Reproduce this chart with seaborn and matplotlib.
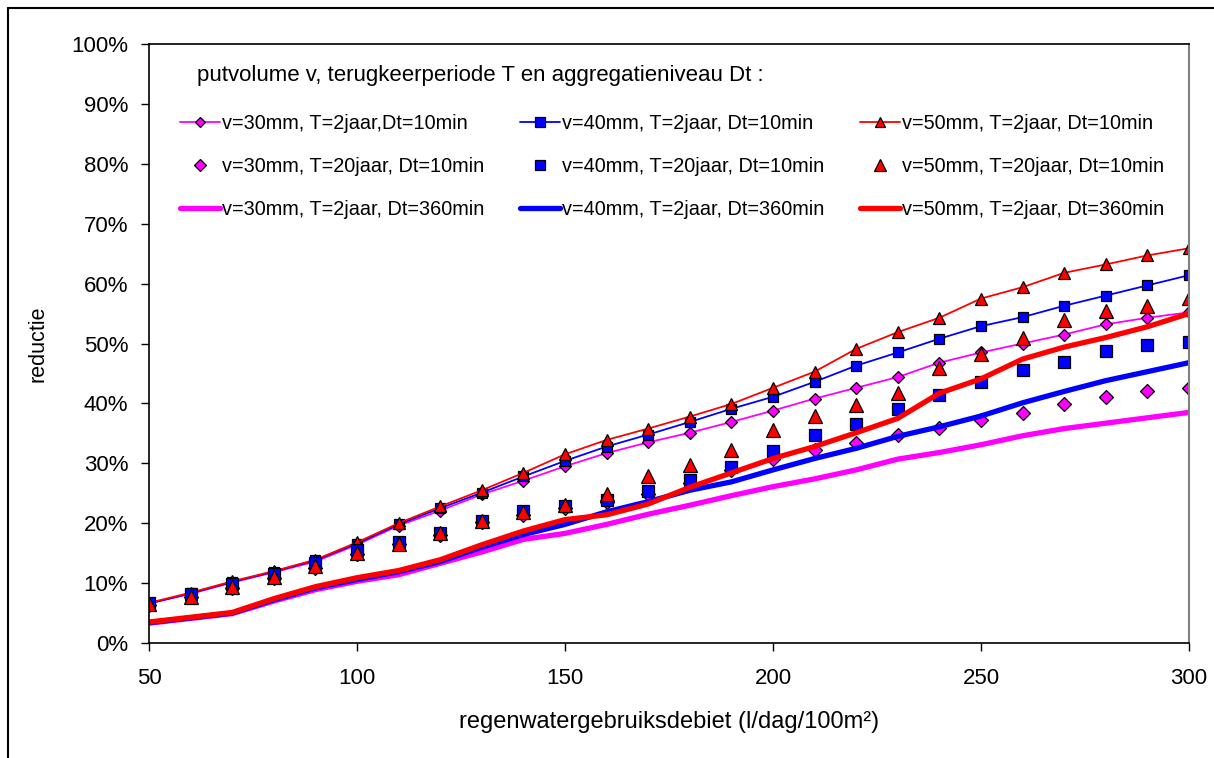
import matplotlib
matplotlib.use("Agg")
import matplotlib.pyplot as plt
import seaborn as sns
from matplotlib.ticker import PercentFormatter, MultipleLocator
from matplotlib.lines import Line2D

# regenwatergebruiksdebiet (l/dag/100m2)
debiet = [50, 60, 70, 80, 90, 100, 110, 120, 130, 140, 150, 160, 170,
          180, 190, 200, 210, 220, 230, 240, 250, 260, 270, 280, 290, 300]

# reductie (%), T=2jaar, Dt=10min
v30_t2_dt10 = [6.6, 8.2, 10.1, 11.8, 13.6, 16.4, 19.6, 22.1, 24.8, 27.1, 29.5, 31.7, 33.5,
               35.1, 36.9, 38.8, 40.8, 42.6, 44.4, 46.8, 48.5, 50.0, 51.5, 53.2, 54.3, 55.2]
v40_t2_dt10 = [6.6, 8.3, 10.2, 11.9, 13.8, 16.6, 19.8, 22.5, 25.1, 27.8, 30.4, 32.8, 34.8,
               36.9, 39.1, 41.1, 43.6, 46.3, 48.5, 50.8, 52.9, 54.4, 56.3, 58.0, 59.7, 61.4]
v50_t2_dt10 = [6.7, 8.4, 10.3, 12.0, 13.9, 16.8, 20.0, 22.8, 25.5, 28.4, 31.5, 33.9, 35.8,
               37.8, 39.9, 42.6, 45.3, 49.1, 51.9, 54.3, 57.5, 59.4, 61.8, 63.2, 64.7, 65.9]

# T=20jaar, Dt=10min
v30_t20_dt10 = [6.4, 7.6, 9.2, 10.9, 12.6, 14.9, 16.5, 18.1, 20.2, 21.4, 22.6, 23.5, 24.8,
                26.7, 28.8, 30.8, 32.3, 33.4, 34.8, 35.9, 37.2, 38.4, 39.9, 41.0, 42.0, 42.5]
v40_t20_dt10 = [6.6, 8.1, 9.8, 11.5, 13.3, 15.6, 16.8, 18.3, 20.4, 22.0, 22.9, 23.9, 25.3,
                27.2, 29.3, 32.0, 34.7, 36.6, 39.1, 41.4, 43.5, 45.5, 46.9, 48.7, 49.7, 50.3]
v50_t20_dt10 = [6.5, 7.7, 9.3, 11.0, 12.8, 15.0, 16.6, 18.4, 20.4, 21.9, 23.0, 24.9, 27.9,
                29.7, 32.3, 35.6, 37.9, 39.7, 41.7, 45.9, 48.2, 50.9, 54.0, 55.4, 56.3, 57.6]

# T=2jaar, Dt=360min
v30_t2_dt360 = [3.3, 4.1, 4.9, 7.0, 8.9, 10.3, 11.4, 13.3, 15.2, 17.3, 18.3, 19.8, 21.5,
                23.0, 24.6, 26.1, 27.4, 28.9, 30.7, 31.8, 33.1, 34.6, 35.8, 36.7, 37.6, 38.5]
v40_t2_dt360 = [3.4, 4.2, 5.0, 7.2, 9.2, 10.6, 11.9, 13.6, 16.0, 18.1, 19.8, 21.9, 23.6,
                25.5, 26.9, 28.9, 30.8, 32.5, 34.5, 36.1, 37.9, 40.1, 42.0, 43.8, 45.3, 46.8]
v50_t2_dt360 = [3.5, 4.3, 5.1, 7.4, 9.4, 10.9, 12.1, 13.9, 16.4, 18.7, 20.6, 21.4, 23.2,
                26.0, 28.4, 30.8, 32.8, 35.1, 37.5, 41.7, 44.1, 47.4, 49.4, 51.0, 52.8, 55.0]

labels_dt10 = ["v=30mm, T=2jaar,Dt=10min", "v=40mm, T=2jaar, Dt=10min", "v=50mm, T=2jaar, Dt=10min"]
labels_t20 = ["v=30mm, T=20jaar, Dt=10min", "v=40mm, T=20jaar, Dt=10min", "v=50mm, T=20jaar, Dt=10min"]
labels_dt360 = ["v=30mm, T=2jaar, Dt=360min", "v=40mm, T=2jaar, Dt=360min", "v=50mm, T=2jaar, Dt=360min"]

kleuren = ["#FF00FF", "#0000FF", "#FF0000"]
markers = ["D", "s", "^"]
msizes = [6, 7, 8]

sns.set_style("white")
plt.rcParams["font.family"] = ["Liberation Sans", "DejaVu Sans"]
plt.rcParams["text.color"] = "black"
plt.rcParams["axes.labelcolor"] = "black"
plt.rcParams["xtick.color"] = "black"
plt.rcParams["ytick.color"] = "black"

fig = plt.figure(figsize=(12.14, 7.58), dpi=100)
ax = fig.add_axes([149 / 1214, 115 / 758, 1040 / 1214, 599 / 758])

handles = {}
# dunne lijnen met markers
for y, lab, c, m, ms in zip([v30_t2_dt10, v40_t2_dt10, v50_t2_dt10], labels_dt10, kleuren, markers, msizes):
    sns.lineplot(x=debiet, y=y, color=c, lw=1.3, marker=m, markersize=ms,
                 markeredgecolor="black", markeredgewidth=0.9, ax=ax, legend=False)
    handles[lab] = Line2D([], [], color=c, lw=1.3, marker=m, markersize=ms - 0.5,
                          markeredgecolor="black", markeredgewidth=0.9)
# alleen markers
for y, lab, c, m, ms in zip([v30_t20_dt10, v40_t20_dt10, v50_t20_dt10], labels_t20, kleuren, markers, msizes):
    sns.lineplot(x=debiet, y=y, color=c, lw=0, marker=m, markersize=ms + 1.5,
                 markeredgecolor="black", markeredgewidth=0.9, ax=ax, legend=False)
    handles[lab] = Line2D([], [], color=c, lw=0, marker=m, markersize=ms,
                          markeredgecolor="black", markeredgewidth=0.9)
# dikke lijnen
for y, lab, c in zip([v30_t2_dt360, v40_t2_dt360, v50_t2_dt360], labels_dt360, kleuren):
    sns.lineplot(x=debiet, y=y, color=c, lw=3.8, ax=ax, legend=False)
    handles[lab] = Line2D([], [], color=c, lw=3.8)

ax.set_xlim(50, 300)
ax.set_ylim(0, 100)
ax.xaxis.set_major_locator(MultipleLocator(50))
ax.yaxis.set_major_locator(MultipleLocator(10))
ax.yaxis.set_major_formatter(PercentFormatter(xmax=100, decimals=0))
ax.tick_params(axis="both", direction="out", length=6, width=1, color="black",
               labelsize=16, left=True, bottom=True)
ax.tick_params(axis="y", pad=9)
ax.tick_params(axis="x", pad=12)
for s in ["left", "bottom", "top"]:
    ax.spines[s].set_color("black")
    ax.spines[s].set_linewidth(1.2)
ax.spines["right"].set_color("#808080")
ax.spines["right"].set_linewidth(1.5)

ax.set_ylabel("reductie", fontsize=15.5, labelpad=16)
ax.set_xlabel("regenwatergebruiksdebiet (l/dag/100m²)", fontsize=17, labelpad=16)

ax.text(0.046, 0.948, "putvolume v, terugkeerperiode T en aggregatieniveau Dt :",
        transform=ax.transAxes, fontsize=16, va="center", ha="left")

volgorde = []
for i in range(3):
    volgorde += [labels_dt10[i], labels_t20[i], labels_dt360[i]]
ax.legend([handles[l] for l in volgorde], volgorde, ncol=3, loc="upper left",
          bbox_to_anchor=(0.03, 0.883), frameon=False, fontsize=14.3,
          handlelength=2.0, handletextpad=0.1, columnspacing=1.8,
          labelspacing=1.2, borderaxespad=0, borderpad=0)

# buitenkader
fig.add_artist(Line2D([8 / 1214, 8 / 1214], [0, 1 - 8 / 758], transform=fig.transFigure,
                      color="black", lw=1.5))
fig.add_artist(Line2D([8 / 1214, 1], [1 - 8 / 758, 1 - 8 / 758], transform=fig.transFigure,
                      color="black", lw=1.5))

fig.savefig("out.png", dpi=100)
